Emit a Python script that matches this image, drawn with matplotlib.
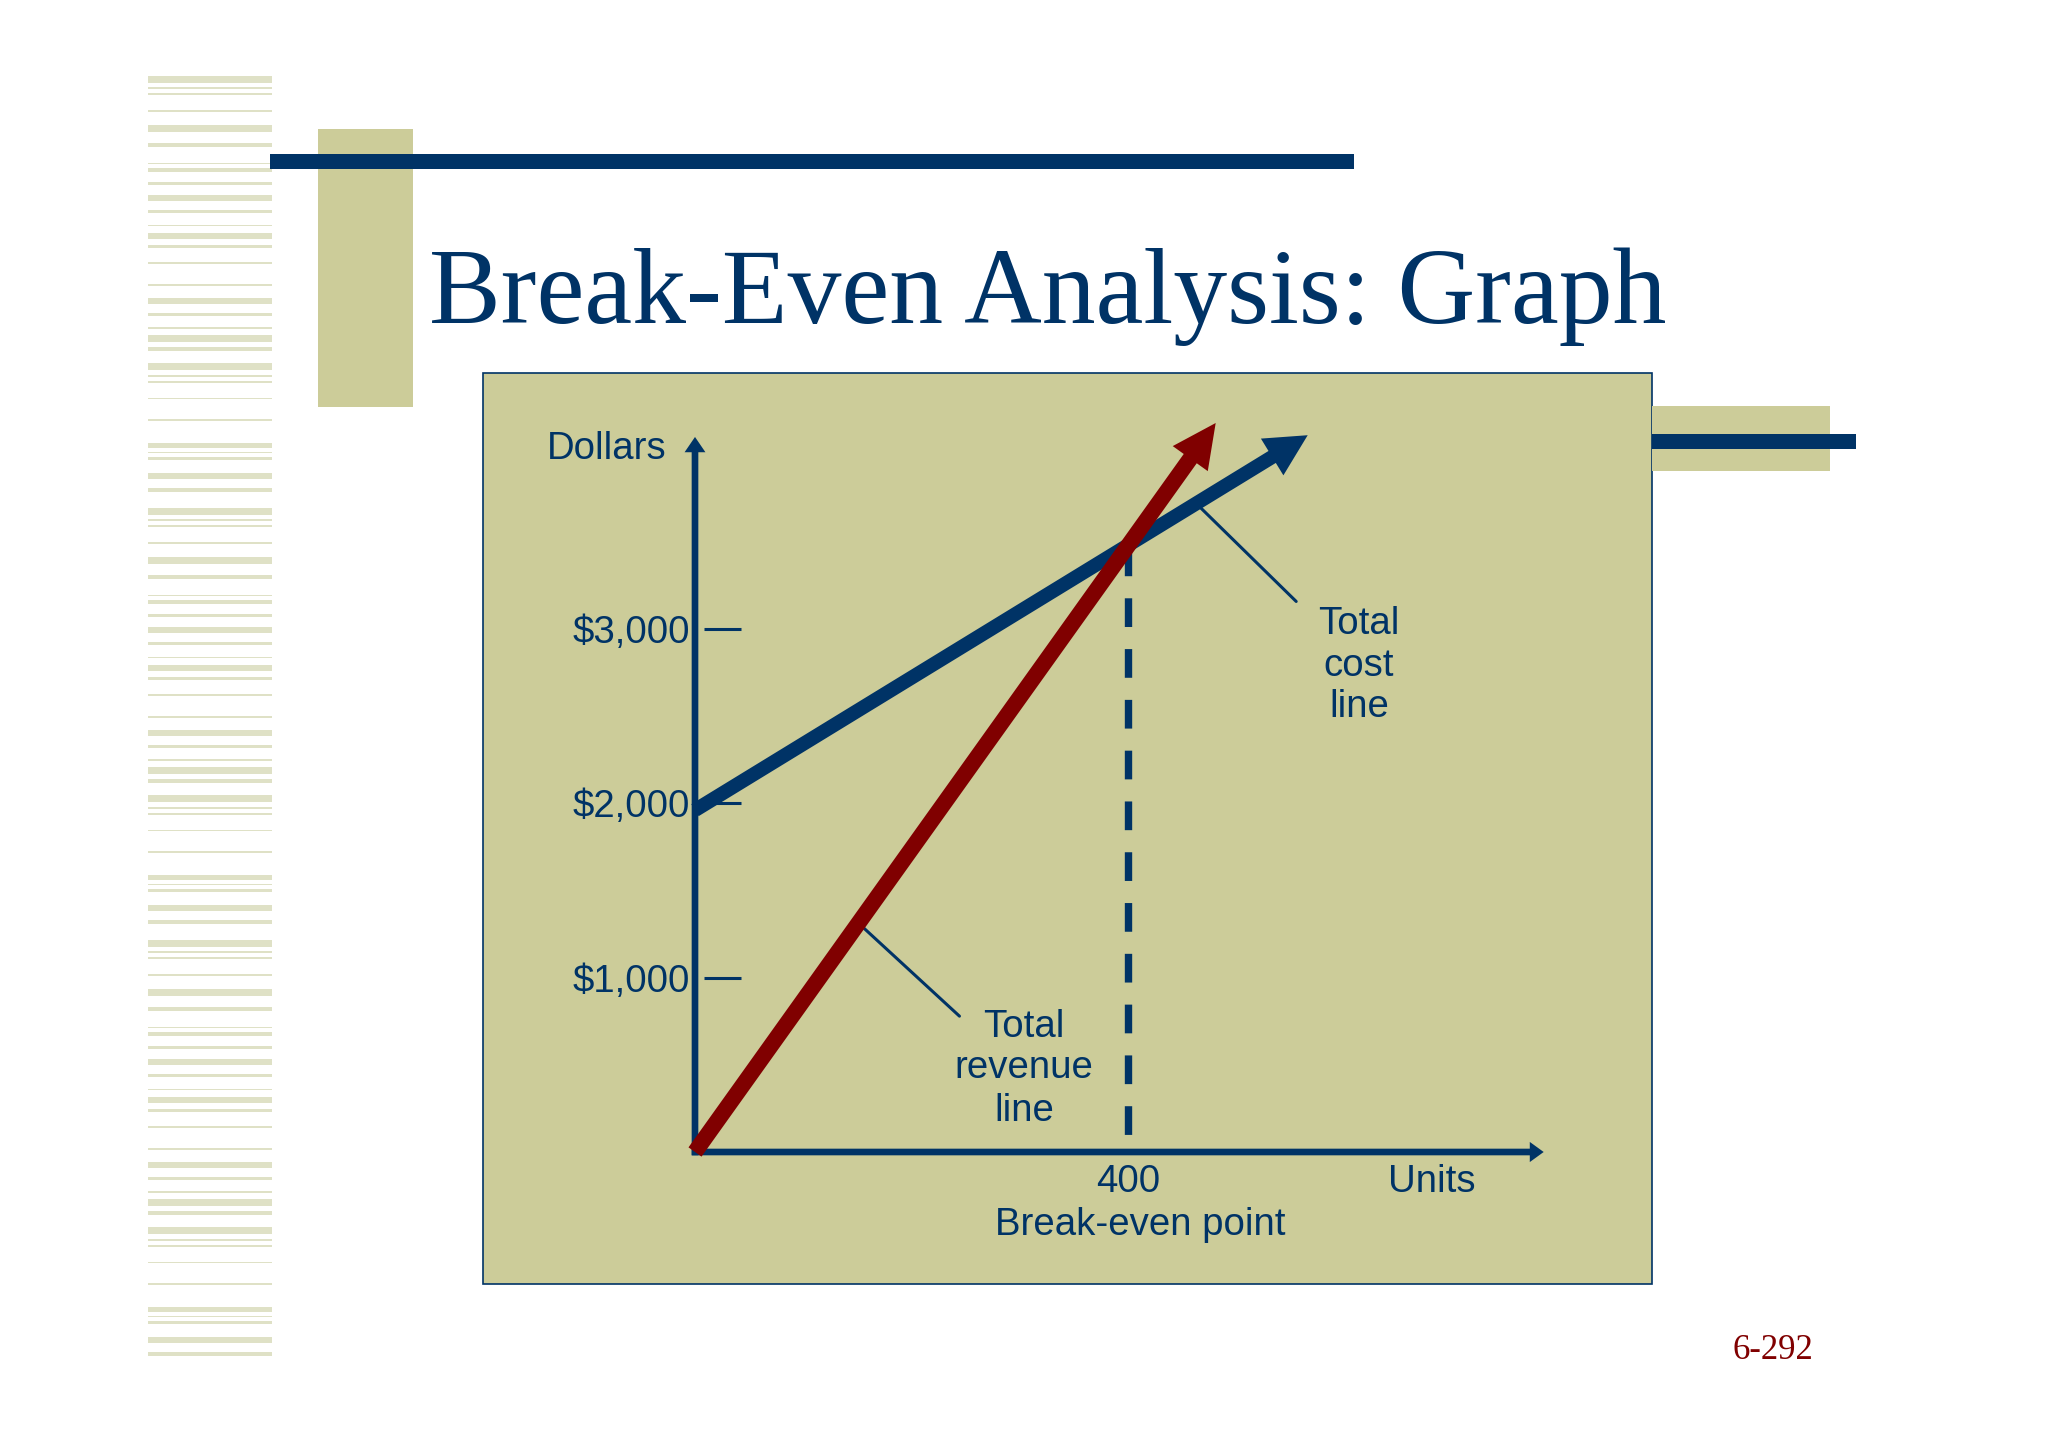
import matplotlib
matplotlib.use("Agg")
import matplotlib.pyplot as plt
from matplotlib.patches import Rectangle, FancyArrowPatch, ArrowStyle

navy = '#003366'
khaki = '#CCCC99'
red = '#800000'

# chart values (units, dollars)
cost_units = [0, 566]
cost_dollars = [1960, 4110]
revenue_units = [0, 481]
revenue_dollars = [0, 4180]
breakeven_units = 400
breakeven_dollars = 3470
dollar_ticks = [1000, 2000, 3000]
dollar_labels = ['$1,000', '$2,000', '$3,000']
units_axis_end = 784
dollars_axis_end = 4100

W, H = 2048, 1447
fig = plt.figure(figsize=(W / 100, H / 100), dpi=100)
fig.patch.set_facecolor('white')

# background axes in pixel coordinates for slide decorations
bg = fig.add_axes([0, 0, 1, 1])
bg.set_xlim(0, W)
bg.set_ylim(H, 0)
bg.axis('off')

# left striped band
stripes = [(76, 83), (87, 89), (93, 95), (110, 112), (125, 132), (143, 147), (163, 164),
           (168, 172), (182, 185), (195, 201), (210, 213), (225, 226), (233, 239), (245, 248),
           (262, 264), (284, 286), (298, 304), (313, 316), (327, 329), (335, 342), (347, 351),
           (363, 370), (375, 377), (381, 383), (398, 399), (419, 421), (443, 448), (452, 453),
           (457, 460), (473, 479), (488, 492)]
all_stripes = []
for shift in (0, 432, 864):
    for a, b in stripes:
        if b + shift <= 1372:
            all_stripes.append((a + shift, b + shift))
for a, b in all_stripes:
    bg.add_patch(Rectangle((148, a), 124, b - a, color='#dfe1c6', lw=0))

bg.add_patch(Rectangle((318, 129), 95, 278, color=khaki, lw=0))
bg.add_patch(Rectangle((270, 154), 1084, 15, color=navy, lw=0))

bg.text(429, 323, 'Break-Even Analysis: Graph', fontsize=77.5, family='Liberation Serif',
        color=navy, ha='left', va='baseline')

# chart panel
bg.add_patch(Rectangle((483, 373), 1169, 911, facecolor=khaki, edgecolor=navy, lw=1.2))
bg.add_patch(Rectangle((1652, 406), 178, 65, color=khaki, lw=0))
bg.add_patch(Rectangle((1652, 434), 204, 15, color=navy, lw=0))

bg.text(1733, 1359, '6-292', fontsize=25, family='Liberation Serif', color=red,
        ha='left', va='baseline')

# data axes laid over the whole figure
X0, Y0 = 695, 1152
PXU, PXD = 1.0825, 0.1744
ax = fig.add_axes([0, 0, 1, 1])
ax.set_facecolor('none')
ax.set_xlim(-X0 / PXU, (W - X0) / PXU)
ax.set_ylim(-(H - Y0) / PXD, Y0 / PXD)
ax.axis('off')


def arrow(xs, ys, color, tail, hw, hl, z):
    p = FancyArrowPatch((xs[0], ys[0]), (xs[1], ys[1]),
                        arrowstyle=ArrowStyle.Simple(head_length=hl, head_width=hw, tail_width=tail),
                        mutation_scale=1, shrinkA=0, shrinkB=0, facecolor=color,
                        edgecolor='none', zorder=z, transform=ax.transData)
    ax.add_patch(p)


# axes with arrow heads
arrow([0, 0], [-19, dollars_axis_end], navy, 4.8, 15, 11, 2)
arrow([-3, units_axis_end], [0, 0], navy, 4.8, 14.5, 10, 2)

# tick dashes and labels
ax.hlines(dollar_ticks, 8.3, 42.5, color=navy, lw=2.2, zorder=2)
fs = 27.6
for v, lab in zip(dollar_ticks, dollar_labels):
    ax.text(-4.5, v, lab, fontsize=fs, family='Liberation Sans', color=navy,
            ha='right', va='center_baseline')
ax.text(-26, 3974, 'Dollars', fontsize=fs, family='Liberation Sans',
        color=navy, ha='right', va='baseline')

# break-even dashed line
ax.plot([breakeven_units, breakeven_units], [breakeven_dollars, 97], color=navy, lw=5.3,
        dashes=(3.9, 3.0), zorder=3)

# cost and revenue lines
arrow(cost_units, cost_dollars, navy, 10.1, 31, 30, 4)
arrow(revenue_units, revenue_dollars, red, 11.5, 31, 31.5, 5)

# leader lines
slope_c = (cost_dollars[1] - cost_dollars[0]) / (cost_units[1] - cost_units[0])
slope_r = (revenue_dollars[1] - revenue_dollars[0]) / (revenue_units[1] - revenue_units[0])
ax.annotate('', xy=(463, cost_dollars[0] + slope_c * 463), xytext=(100, -98),
            textcoords='offset pixels',
            arrowprops=dict(arrowstyle='-', color=navy, lw=2.2, shrinkA=0, shrinkB=0))
ax.annotate('', xy=(151, revenue_dollars[0] + slope_r * 151), xytext=(101, -93),
            textcoords='offset pixels',
            arrowprops=dict(arrowstyle='-', color=navy, lw=2.2, shrinkA=0, shrinkB=0))

# labels in pixel positions
for txt, yb in zip(['Total', 'cost', 'line'], [634, 676, 717]):
    bg.text(1359, yb, txt, fontsize=fs, family='Liberation Sans', color=navy,
            ha='center', va='baseline')
for txt, yb in zip(['Total', 'revenue', 'line'], [1037, 1078, 1121]):
    bg.text(1024, yb, txt, fontsize=fs, family='Liberation Sans', color=navy,
            ha='center', va='baseline')

ax.text(breakeven_units, -230, '400', fontsize=fs, family='Liberation Sans', color=navy,
        ha='center', va='baseline')
bg.text(1432, 1192, 'Units', fontsize=fs, family='Liberation Sans', color=navy,
        ha='center', va='baseline')
bg.text(1140, 1235, 'Break-even point', fontsize=fs, family='Liberation Sans', color=navy,
        ha='center', va='baseline')

fig.savefig('out.png', dpi=100)
